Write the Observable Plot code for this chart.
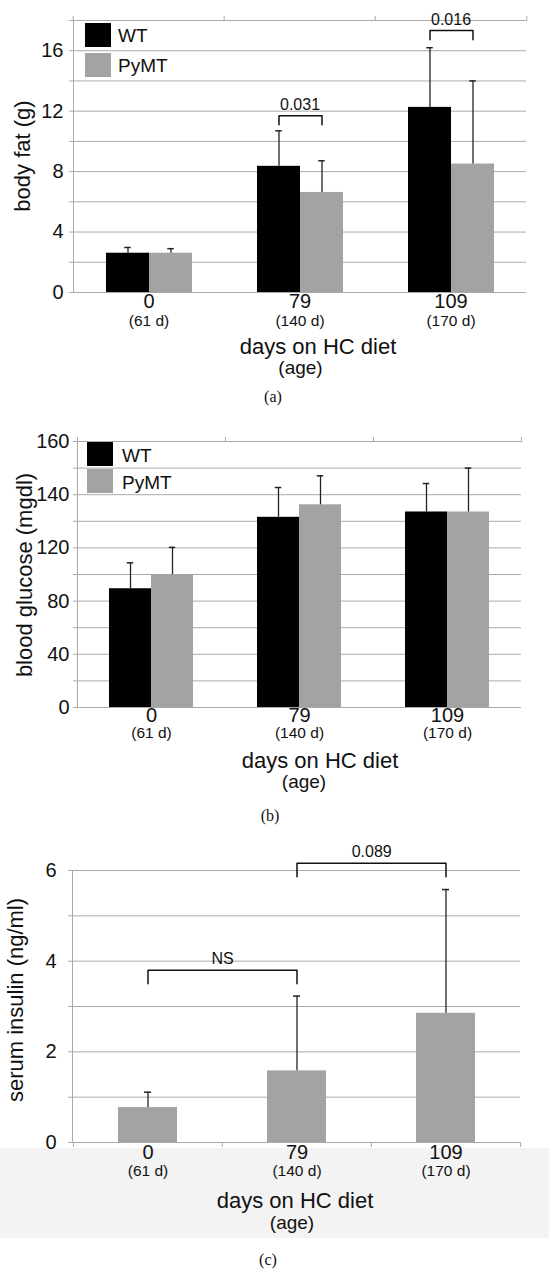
<!DOCTYPE html>
<html><head><meta charset="utf-8">
<script src="https://cdn.jsdelivr.net/npm/d3@7"></script>
<script src="https://cdn.jsdelivr.net/npm/@observablehq/plot@0.6"></script>
<style>
body{margin:0;background:#fff;}
#root{position:relative;width:549px;height:1269px;overflow:hidden;font-family:"Liberation Sans",Arial,sans-serif;color:#111;}
.t{position:absolute;transform:translate(-50%,-50%);white-space:nowrap;line-height:1;}
.l{position:absolute;transform:translate(0,-50%);white-space:nowrap;line-height:1;}
.box{position:absolute;}
</style></head><body><div id="root"></div>
<script>
// ---------- data ----------
const days = ["0", "79", "109"];
const ages = ["(61 d)", "(140 d)", "(170 d)"];
const series = ["WT", "PyMT"];

// (a) body fat (g)
const fatWT = [2.6, 8.35, 12.25];
const fatWTErr = [0.38, 2.35, 3.95];
const fatPyMT = [2.6, 6.62, 8.5];
const fatPyMTErr = [0.3, 2.1, 5.5];
const fatGrid = [0, 2, 4, 6, 8, 10, 12, 14, 16, 18];
const fatLabels = [0, 4, 8, 12, 16];
const fatBracketDays = ["79", "109"];
const fatBracketTop = [11.7, 17.33];
const fatBracketFoot = [11.1, 16.73];
const fatBracketLabel = ["0.031", "0.016"];

// (b) blood glucose (mgdl) — axis as printed: 0,40,80,120,140,160
const gluWT = [89.3, 131.5, 133.5];
const gluWTErr = [19.5, 11.2, 10.7];
const gluPyMT = [99.8, 136.2, 133.5];
const gluPyMTErr = [20.4, 10.9, 16.5];
const gluGrid = [0, 20, 40, 60, 80, 100, 120, 130, 140, 150, 160];
const gluLabels = [0, 40, 80, 120, 140, 160];

// (c) serum insulin (ng/ml)
const insulin = [0.77, 1.58, 2.85];
const insulinErr = [0.34, 1.65, 2.73];
const insGrid = [0, 1, 2, 3, 4, 5, 6];
const insLabels = [0, 2, 4, 6];
const insBracketFrom = ["0", "79"];
const insBracketTo = ["79", "109"];
const insBracketTop = [3.8, 6.16];
const insBracketFoot = [3.5, 5.86];
const insBracketLabel = ["NS", "0.089"];

// ---------- helpers ----------
const W = 549;
const GRID = "#aaaaaa";
const WT_COLOR = "#000000";
const PY_COLOR = "#a3a3a3";
const root = document.getElementById("root");

function addText(txt, x, y, size, opts = {}) {
  const d = document.createElement("div");
  d.className = opts.left ? "l" : "t";
  d.textContent = txt;
  d.style.left = x + "px";
  d.style.top = y + "px";
  d.style.fontSize = size + "px";
  if (opts.rotate) d.style.transform = "translate(-50%,-50%) rotate(-90deg)";
  if (opts.serif) d.style.fontFamily = '"Liberation Serif","Times New Roman",serif';
  root.appendChild(d);
}
function addBox(x, y, w, h, color) {
  const d = document.createElement("div");
  d.className = "box";
  Object.assign(d.style, {left: x + "px", top: y + "px", width: w + "px", height: h + "px", background: color});
  root.appendChild(d);
}
function place(svg, top) {
  const wrap = document.createElement("div");
  Object.assign(wrap.style, {position: "absolute", left: "0px", top: top + "px"});
  wrap.appendChild(svg);
  root.appendChild(wrap);
}

function groupedPanel(cfg) {
  const rows = [];
  days.forEach((d, i) => {
    rows.push({day: d, series: "WT", value: cfg.wt[i], hi: cfg.wt[i] + cfg.wtErr[i]});
    rows.push({day: d, series: "PyMT", value: cfg.py[i], hi: cfg.py[i] + cfg.pyErr[i]});
  });
  const dayRows = days.map((d, i) => ({day: d, age: ages[i]}));
  const brackets = (cfg.bDays || []).map((d, i) => ({day: d, top: cfg.bTop[i], foot: cfg.bFoot[i], label: cfg.bLabel[i]}));
  const pts = brackets.flatMap(b => [
    {day: b.day, series: "WT", y: b.foot},
    {day: b.day, series: "WT", y: b.top},
    {day: b.day, series: "PyMT", y: b.top},
    {day: b.day, series: "PyMT", y: b.foot}
  ]);
  const step = (W - cfg.ml - cfg.mr) / days.length;
  const bw = step / (2 + 2 * cfg.po);
  const capInset = (bw - 7) / 2;
  return Plot.plot({
    width: W, height: cfg.height,
    marginTop: cfg.mt, marginBottom: cfg.mb, marginLeft: cfg.ml, marginRight: cfg.mr,
    style: {background: "transparent", fontFamily: '"Liberation Sans",Arial,sans-serif', color: "#111", overflow: "visible"},
    fx: {domain: days, padding: 0, axis: null},
    x: {domain: series, paddingInner: 0, paddingOuter: cfg.po, axis: null},
    y: Object.assign({axis: null}, cfg.y),
    color: {domain: series, range: [WT_COLOR, PY_COLOR]},
    marks: [
      Plot.gridY(cfg.grid, {stroke: GRID, strokeOpacity: 1}),
      Plot.axisY(cfg.grid, {tickSize: 4, tickPadding: cfg.tickPadding, stroke: GRID, fill: "#111",
        tickFormat: d => cfg.labels.includes(d) ? String(d) : "", fontSize: 20, label: null}),
      Plot.frame({anchor: "left", facetAnchor: "left", stroke: GRID}),
      Plot.axisFx({tickSize: 5, tickFormat: () => "", dx: -step / 2, stroke: GRID, label: null}),
      Plot.axisFx({ticks: [days[days.length - 1]], tickSize: 5, tickFormat: () => "", dx: step / 2, stroke: GRID, label: null}),
      Plot.barY(rows, {fx: "day", x: "series", y: "value", fill: "series"}),
      Plot.ruleX(rows, {fx: "day", x: "series", y1: "value", y2: "hi", stroke: "#222", strokeWidth: 1.3}),
      Plot.tickY(rows, {fx: "day", x: "series", y: "hi", stroke: "#222", strokeWidth: 1.5, insetLeft: capInset, insetRight: capInset}),
      Plot.line(pts, {fx: "day", x: "series", y: "y", z: "day", stroke: "#111", strokeWidth: 1.5}),
      Plot.text(brackets, {fx: "day", y: "top", text: "label", dy: -11, fontSize: 16, fill: "#111"}),
      Plot.text(dayRows, {fx: "day", text: "day", frameAnchor: "bottom", dy: cfg.dayDy, fontSize: 20, fill: "#111"}),
      Plot.text(dayRows, {fx: "day", text: "age", frameAnchor: "bottom", dy: cfg.ageDy, fontSize: 15.5, fill: "#111"})
    ]
  });
}

// ---------- (a) ----------
const svgA = groupedPanel({
  wt: fatWT, wtErr: fatWTErr, py: fatPyMT, pyErr: fatPyMTErr,
  grid: fatGrid, labels: fatLabels,
  y: {domain: [0, 18]},
  height: 345, mt: 20, mb: 53, ml: 72, mr: 22, po: 0.743, tickPadding: 6,
  dayDy: 15, ageDy: 33,
  bDays: fatBracketDays, bTop: fatBracketTop, bFoot: fatBracketFoot, bLabel: fatBracketLabel
});
place(svgA, 0);
addBox(85, 23, 26, 24, WT_COLOR);
addBox(85, 53, 26, 24, PY_COLOR);
addText("WT", 118, 35, 19, {left: true});
addText("PyMT", 118, 65, 19, {left: true});
addText("body fat (g)", 23, 156, 22, {rotate: true});
addText("days on HC diet", 318, 347, 22);
addText("(age)", 300.5, 367, 19);
addText("(a)", 273, 397, 16, {serif: true});

// ---------- (b) ----------
const bTop = 420, bMt = 21, bMb = 48, bH = 335;
const bFrameBottom = bH - bMb, bFrameH = bH - bMb - bMt;
const svgB = groupedPanel({
  wt: gluWT, wtErr: gluWTErr, py: gluPyMT, pyErr: gluPyMTErr,
  grid: gluGrid, labels: gluLabels,
  y: {type: "linear", domain: [0, 120, 160], range: [bFrameBottom, bFrameBottom - 0.6 * bFrameH, bMt]},
  height: bH, mt: bMt, mb: bMb, ml: 77, mr: 28, po: 0.74, tickPadding: 4,
  dayDy: 14, ageDy: 30,
  bDays: []
});
place(svgB, bTop);
addBox(87, 442, 26, 24, WT_COLOR);
addBox(87, 469, 26, 24, PY_COLOR);
addText("WT", 122, 455, 19, {left: true});
addText("PyMT", 122, 481.5, 19, {left: true});
addText("blood glucose (mgdl)", 25, 575, 22, {rotate: true});
addText("days on HC diet", 320, 761, 22);
addText("(age)", 304, 781, 19);
addText("(b)", 270, 816, 16, {serif: true});

// ---------- (c) ----------
addBox(0, 1148, 549, 90, "#f3f3f3");
const cMl = 72, cMr = 29;
const cStep = (W - cMl - cMr) / days.length;
const insRows = days.map((d, i) => ({day: d, age: ages[i], value: insulin[i], hi: insulin[i] + insulinErr[i]}));
const insBr = insBracketFrom.map((f, i) => ({id: i, from: f, to: insBracketTo[i], top: insBracketTop[i], foot: insBracketFoot[i], label: insBracketLabel[i]}));
const insPts = insBr.flatMap(b => [
  {id: b.id, day: b.from, y: b.foot}, {id: b.id, day: b.from, y: b.top},
  {id: b.id, day: b.to, y: b.top}, {id: b.id, day: b.to, y: b.foot}
]);
const cPadInner = 0.605;
const cBw = cStep * (1 - cPadInner);
const svgC = Plot.plot({
  width: W, height: 345,
  marginTop: 20, marginBottom: 53, marginLeft: cMl, marginRight: cMr,
  style: {background: "transparent", fontFamily: '"Liberation Sans",Arial,sans-serif', color: "#111", overflow: "visible"},
  x: {domain: days, paddingInner: cPadInner, paddingOuter: cPadInner / 2, axis: null},
  y: {domain: [0, 6], axis: null},
  marks: [
    Plot.gridY(insGrid, {stroke: GRID, strokeOpacity: 1}),
    Plot.axisY(insGrid, {tickSize: 4, tickPadding: 12, stroke: GRID, fill: "#111",
      tickFormat: d => insLabels.includes(d) ? String(d) : "", fontSize: 20, label: null}),
    Plot.frame({anchor: "left", stroke: GRID}),
    Plot.axisX({tickSize: 5, tickFormat: () => "", dx: -cStep / 2, stroke: GRID, label: null}),
    Plot.axisX({ticks: [days[days.length - 1]], tickSize: 5, tickFormat: () => "", dx: cStep / 2, stroke: GRID, label: null}),
    Plot.barY(insRows, {x: "day", y: "value", fill: PY_COLOR}),
    Plot.ruleX(insRows, {x: "day", y1: "value", y2: "hi", stroke: "#222", strokeWidth: 1.3}),
    Plot.tickY(insRows, {x: "day", y: "hi", stroke: "#222", strokeWidth: 1.5, insetLeft: (cBw - 7) / 2, insetRight: (cBw - 7) / 2}),
    Plot.line(insPts, {x: "day", y: "y", z: "id", stroke: "#111", strokeWidth: 1.5}),
    Plot.text(insBr, {x: "from", y: "top", text: "label", dx: cStep / 2, dy: -11.5, fontSize: 16, fill: "#111"}),
    Plot.text(insRows, {x: "day", text: "day", frameAnchor: "bottom", dy: 16, fontSize: 20, fill: "#111"}),
    Plot.text(insRows, {x: "day", text: "age", frameAnchor: "bottom", dy: 33, fontSize: 15.5, fill: "#111"})
  ]
});
place(svgC, 850);
addText("serum insulin (ng/ml)", 16, 1000, 22, {rotate: true});
addText("days on HC diet", 295, 1201, 22);
addText("(age)", 292, 1222, 19);
addText("(c)", 268, 1260, 16, {serif: true});
</script></body></html>
